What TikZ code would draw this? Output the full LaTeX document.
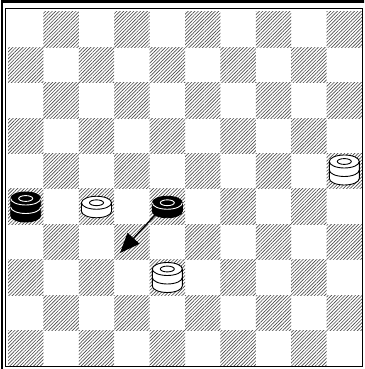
\documentclass[tikz,border=0pt]{standalone}
\usetikzlibrary{arrows.meta, patterns.meta}

% board and piece sizes (in pt)
\def\sq{35.4}
\def\prx{15}
\def\pry{6.5}
\def\layerh{8.5}

% one stack of pieces: x, y, layers, fill colour, line colour
\newcommand{\drawstack}[5]{%
  \begin{scope}[shift={(#1,#2)}]
    \pgfmathsetmacro{\toplevel}{#3*\layerh/2}
    \pgfmathsetmacro{\botlevel}{-#3*\layerh/2}
    \filldraw[fill=#4, draw=black, line width=0.9pt]
      (-\prx,\toplevel) -- (-\prx,\botlevel)
      arc[start angle=180, end angle=360, x radius=\prx, y radius=\pry]
      -- (\prx,\toplevel)
      arc[start angle=0, end angle=180, x radius=\prx, y radius=\pry] -- cycle;
    \draw[#5, line width=0.9pt] (-\prx,\toplevel)
      arc[start angle=180, end angle=360, x radius=\prx, y radius=\pry];
    \ifnum#3>1
      \foreach \k in {2,...,#3}{
        \draw[#5, line width=0.9pt] (-\prx,{\toplevel-(\k-1)*\layerh})
          arc[start angle=180, end angle=360, x radius=\prx, y radius=\pry];
      }
    \fi
    \draw[#5, line width=0.9pt] (0,\toplevel) ellipse[x radius=7, y radius=2.9];
  \end{scope}}
\newcommand{\whitestack}[3]{\drawstack{#1}{#2}{#3}{white}{black}}
\newcommand{\blackstack}[3]{\drawstack{#1}{#2}{#3}{black}{white}}

\begin{document}
\begin{tikzpicture}[
    x=1pt, y=1pt,
    darksq/.style={pattern={Lines[angle=45, distance=2.4pt, line width=0.65pt]}, pattern color=black!70},
    frameline/.style={line width=2.4pt},
    boardline/.style={line width=1pt},
    movearrow/.style={line width=1.4pt, -{Triangle[length=20pt, width=16pt]}},
]
\useasboundingbox (0,0) rectangle (364,369);
\clip (0,0) rectangle (364,369);

% Frame
\draw[frameline] (2,-5) -- (2,367.5) -- (372,367.5);
\draw[boardline] (5.5,2) rectangle (362.5,360.5);

% Squares (row 0 at the top)
\foreach \r in {0,...,9}{
  \foreach \c in {0,...,9}{
    \pgfmathtruncatemacro{\odd}{mod(\r+\c,2)}
    \ifnum\odd=1
      \fill[darksq] ({8+\c*\sq},{3+(9-\r)*\sq}) rectangle ++(\sq,\sq);
    \fi
  }
}

% Pieces
\blackstack{25.7}{162}{2}
\whitestack{96.5}{162}{1}
\blackstack{167.3}{162}{1}
\whitestack{167.3}{91.5}{2}
\whitestack{344.3}{199}{2}

% Move
\coordinate (start) at (156,155);
\coordinate (goal) at (120,116);
\draw[movearrow] (start) -- (goal);

\end{tikzpicture}
\end{document}
